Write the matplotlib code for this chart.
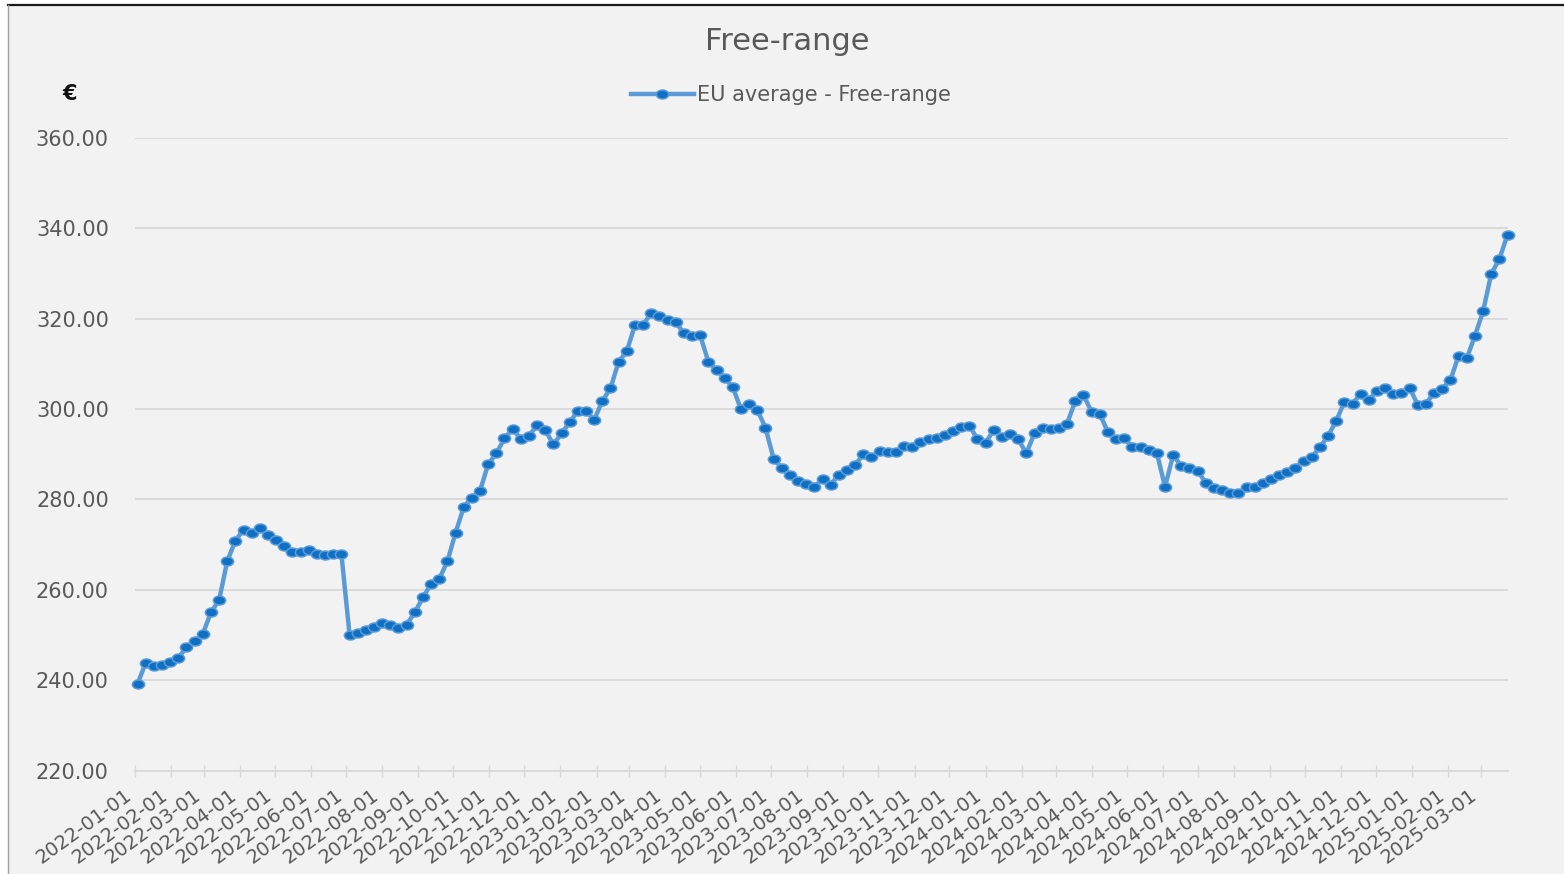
import matplotlib
matplotlib.use("Agg")
import matplotlib.pyplot as plt
import matplotlib.dates as mdates
from matplotlib.path import Path
from matplotlib.transforms import Affine2D
from matplotlib.patches import Rectangle
from matplotlib.lines import Line2D
from matplotlib.ticker import FormatStrFormatter
import pandas as pd

# ---- data ----
title = "Free-range"
series_name = "EU average - Free-range"
unit_label = "€"
first_week = "2022-01-03"
values = [
    239.2, 243.8, 243.1, 243.4, 244.0, 244.9, 247.3, 248.7, 250.2, 255.0,
    257.7, 266.3, 270.9, 273.3, 272.5, 273.7, 272.1, 271.1, 269.6, 268.4,
    268.4, 268.7, 267.9, 267.6, 267.9, 267.9, 250.1, 250.5, 251.2, 251.8,
    252.7, 252.2, 251.6, 252.3, 255.0, 258.3, 261.3, 262.4, 266.3, 272.6,
    278.3, 280.4, 281.9, 287.8, 290.2, 293.5, 295.6, 293.4, 294.1, 296.4,
    295.3, 292.2, 294.6, 297.1, 299.6, 299.6, 297.6, 301.8, 304.6, 310.5,
    312.8, 318.6, 318.6, 321.3, 320.6, 319.8, 319.2, 316.8, 316.2, 316.3,
    310.5, 308.7, 306.9, 304.8, 300.0, 301.1, 299.8, 295.9, 289.0, 287.0,
    285.5, 284.0, 283.4, 282.7, 284.6, 283.3, 285.4, 286.5, 287.6, 290.0,
    289.3, 290.8, 290.5, 290.4, 291.8, 291.6, 292.7, 293.3, 293.5, 294.2,
    295.1, 296.0, 296.3, 293.4, 292.5, 295.4, 293.8, 294.5, 293.3, 290.2,
    294.7, 295.7, 295.6, 295.8, 296.8, 301.8, 303.1, 299.4, 298.9, 294.9,
    293.3, 293.6, 291.5, 291.6, 290.9, 290.3, 282.8, 289.8, 287.4, 287.0,
    286.4, 283.6, 282.5, 282.1, 281.4, 281.4, 282.8, 282.7, 283.6, 284.6,
    285.5, 286.1, 287.0, 288.6, 289.4, 291.5, 294.1, 297.4, 301.6, 301.2,
    303.4, 302.1, 304.0, 304.7, 303.3, 303.6, 304.7, 300.9, 301.2, 303.6,
    304.5, 306.4, 311.8, 311.2, 316.2, 321.6, 329.9, 333.2, 338.6,
]
dates = pd.date_range(first_week, periods=len(values), freq="7D")
tick_months = pd.date_range("2022-01-01", "2025-03-01", freq="MS")
y_ticks = [220, 240, 260, 280, 300, 320, 340, 360]

# ---- style ----
W, H = 1564, 874
bg = "#f2f2f2"
grid_c = "#d9d9d9"
text_c = "#595959"
line_c = "#5b9bd5"
mark_c = "#0e6fc4"

fig = plt.figure(figsize=(W / 100, H / 100), dpi=100)
fig.patch.set_facecolor("white")
fig.patches.append(Rectangle((8 / W, 0), 1, 1 - 5 / H, transform=fig.transFigure,
                             facecolor=bg, edgecolor="none", zorder=-10))
fig.lines.append(Line2D([8 / W, 1], [1 - 5 / H, 1 - 5 / H], transform=fig.transFigure,
                        color="#1a1a1a", lw=1.6))
fig.lines.append(Line2D([8 / W, 8 / W], [0, 1 - 5 / H], transform=fig.transFigure,
                        color="#a0a0a0", lw=1.0))

ax = fig.add_axes([135.2 / W, 1 - 770.5 / H, (1507.5 - 135.2) / W, (770.5 - 138) / H])
ax.set_facecolor(bg)

ell = Affine2D().scale(1.0, 0.73).transform_path(Path.unit_circle())
ax.plot(dates, values, color=line_c, lw=3.2, marker=ell, markersize=8.8,
        markerfacecolor=mark_c, markeredgecolor=line_c, markeredgewidth=1.1,
        label=series_name, zorder=3, solid_joinstyle="round", clip_on=False)

ax.set_ylim(220, 360)
ax.set_yticks(y_ticks)
ax.yaxis.set_major_formatter(FormatStrFormatter("%.2f"))
ax.set_xlim(pd.Timestamp("2022-01-01"), pd.Timestamp("2025-03-24"))
ax.set_xticks(tick_months)
ax.xaxis.set_major_formatter(mdates.DateFormatter("%Y-%m-%d"))

ax.grid(axis="y", color=grid_c, lw=1.3)
ax.set_axisbelow(True)
for s in ["top", "right", "left"]:
    ax.spines[s].set_visible(False)
ax.spines["bottom"].set_color(grid_c)
ax.spines["bottom"].set_linewidth(1.3)

ax.tick_params(axis="y", length=0, pad=19, labelsize=15, labelcolor=text_c)
ax.tick_params(axis="x", direction="inout", length=9, width=1, color=grid_c,
               pad=6, labelsize=14, labelcolor=text_c)
for lab in ax.get_xticklabels():
    lab.set_rotation(36)
    lab.set_ha("right")
    lab.set_va("top")

fig.text(787 / W, 1 - 41 / H, title, ha="center", va="center", fontsize=22, color=text_c)
fig.text(70 / W, 1 - 94 / H, unit_label, ha="center", va="center", fontsize=15,
         color="#111111", fontweight="bold")

leg = fig.legend(loc="center", bbox_to_anchor=(791 / W, 1 - 95 / H), frameon=False,
                 fontsize=15, handlelength=3.0, handletextpad=0.15, labelcolor=text_c)

fig.savefig("out.png", dpi=100, facecolor=fig.get_facecolor())
